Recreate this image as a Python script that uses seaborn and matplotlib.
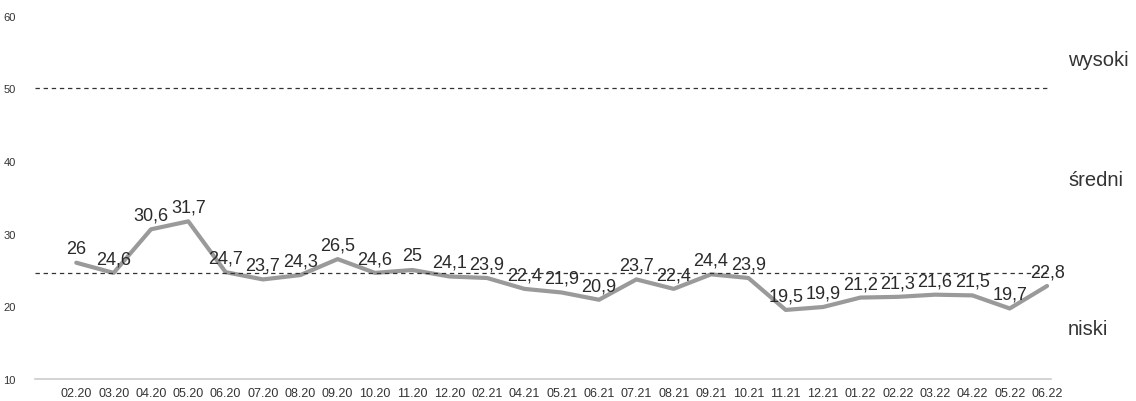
import matplotlib
matplotlib.use("Agg")
import matplotlib.pyplot as plt
import seaborn as sns
import pandas as pd

months = ['02.20', '03.20', '04.20', '05.20', '06.20', '07.20', '08.20', '09.20',
          '10.20', '11.20', '12.20', '02.21', '04.21', '05.21', '06.21', '07.21',
          '08.21', '09.21', '10.21', '11.21', '12.21', '01.22', '02.22', '03.22',
          '04.22', '05.22', '06.22']
values = [26, 24.6, 30.6, 31.7, 24.7, 23.7, 24.3, 26.5, 24.6, 25, 24.1, 23.9,
          22.4, 21.9, 20.9, 23.7, 22.4, 24.4, 23.9, 19.5, 19.9, 21.2, 21.3,
          21.6, 21.5, 19.7, 22.8]
thresholds = [50, 24.6]
zone_labels = ['wysoki', 'średni', 'niski']
zone_pos = [54, 37.5, 17]

df = pd.DataFrame({'idx': range(len(months)), 'value': values})

sns.set_style('white')
plt.rcParams['font.family'] = ['Liberation Sans', 'DejaVu Sans']

fig = plt.figure(figsize=(11.36, 4.02), dpi=100)
ax = fig.add_axes([0.031, 0.055, 0.894, 0.903])

sns.lineplot(data=df, x='idx', y='value', color='#9a9a9a', linewidth=3, ax=ax)

for t in thresholds:
    ax.axhline(t, color='#333333', linestyle=(0, (3.5, 3)), linewidth=0.9)

for i, v in enumerate(values):
    ax.annotate(f'{v:g}'.replace('.', ','), (i, v), xytext=(0, 4),
                textcoords='offset points', ha='center', va='bottom',
                fontsize=13, color='#2a2a2a')

for lab, y in zip(zone_labels, zone_pos):
    ax.text(1.017, (y - 10) / 50, lab, transform=ax.transAxes,
            fontsize=14.5, color='#333333', va='center', ha='left')

ax.set_ylim(10, 60)
ax.set_yticks([10, 20, 30, 40, 50, 60])
ax.set_xlim(-1.1, 26.1)
ax.set_xticks(range(len(months)))
ax.set_xticklabels(months, fontsize=9, color='#333333')
ax.tick_params(axis='y', labelsize=8, labelcolor='#333333', pad=14, length=0)
ax.tick_params(axis='x', length=0, pad=6)
ax.set_xlabel('')
ax.set_ylabel('')

sns.despine(ax=ax, left=True, top=True, right=True)
ax.spines['bottom'].set_color('#cccccc')
ax.spines['bottom'].set_linewidth(1.2)

fig.savefig('out.png', dpi=100)
